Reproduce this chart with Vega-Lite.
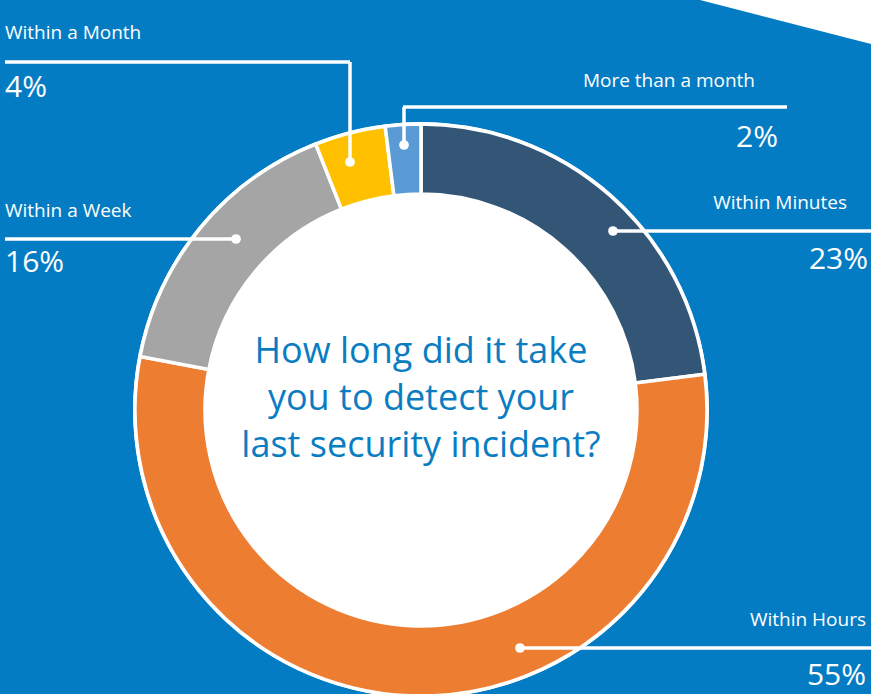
{
  "$schema": "https://vega.github.io/schema/vega-lite/v6.json",
  "width": 871,
  "height": 694,
  "autosize": {"type": "none"},
  "padding": 0,
  "background": "#047cc3",
  "config": {"view": {"stroke": null}},
  "resolve": {"scale": {"theta": "independent"}},
  "datasets": {
    "slices": [
      {"category": "Within Minutes", "value": 23, "rank": 1},
      {"category": "Within Hours", "value": 55, "rank": 2},
      {"category": "Within a Week", "value": 16, "rank": 3},
      {"category": "Within a Month", "value": 4, "rank": 4},
      {"category": "More than a month", "value": 2, "rank": 5}
    ],
    "corner": [
      {"x": 700, "y": 0},
      {"x": 871, "y": 44}
    ],
    "leaders": [
      {"category": "Within a Month", "x": 5, "y": 62, "x2": 350, "y2": 62},
      {"category": "Within a Month", "x": 350, "y": 62, "x2": 350, "y2": 162},
      {"category": "More than a month", "x": 403, "y": 107, "x2": 787, "y2": 107},
      {"category": "More than a month", "x": 404, "y": 107, "x2": 404, "y2": 145},
      {"category": "Within Minutes", "x": 613, "y": 231, "x2": 871, "y2": 231},
      {"category": "Within a Week", "x": 5, "y": 239, "x2": 236, "y2": 239},
      {"category": "Within Hours", "x": 520, "y": 648, "x2": 871, "y2": 648}
    ],
    "dots": [
      {"category": "Within a Month", "x": 350, "y": 162},
      {"category": "More than a month", "x": 404, "y": 145},
      {"category": "Within Minutes", "x": 613, "y": 231},
      {"category": "Within a Week", "x": 236, "y": 239},
      {"category": "Within Hours", "x": 520, "y": 648}
    ],
    "labels": [
      {"text": "Within a Month", "kind": "name", "side": "left", "x": 5, "y": 39},
      {"text": "4%", "kind": "pct", "side": "left", "x": 5, "y": 97},
      {"text": "Within a Week", "kind": "name", "side": "left", "x": 5, "y": 217},
      {"text": "16%", "kind": "pct", "side": "left", "x": 5, "y": 272},
      {"text": "More than a month", "kind": "name", "side": "right", "x": 755, "y": 87},
      {"text": "2%", "kind": "pct", "side": "right", "x": 778, "y": 147},
      {"text": "Within Minutes", "kind": "name", "side": "right", "x": 847, "y": 209},
      {"text": "23%", "kind": "pct", "side": "right", "x": 868, "y": 269},
      {"text": "Within Hours", "kind": "name", "side": "right", "x": 866, "y": 626},
      {"text": "55%", "kind": "pct", "side": "right", "x": 866, "y": 685}
    ],
    "title": [
      {"text": ["How long did it take", "you to detect your", "last security incident?"], "x": 421, "y": 363}
    ],
    "disk": [
      {"value": 1}
    ]
  },
  "encoding": {
    "x": {"type": "quantitative", "scale": {"domain": [0, 871], "nice": false, "zero": false}, "axis": null},
    "y": {"type": "quantitative", "scale": {"domain": [0, 694], "nice": false, "zero": false, "reverse": true}, "axis": null}
  },
  "layer": [
    {
      "data": {"name": "corner"},
      "mark": {"type": "area", "color": "white"},
      "encoding": {
        "x": {"field": "x", "type": "quantitative"},
        "y": {"field": "y", "type": "quantitative"},
        "y2": {"datum": 0}
      }
    },
    {
      "data": {"name": "disk"},
      "mark": {"type": "arc", "radius": 288, "radius2": 0, "color": "white"},
      "encoding": {
        "theta": {"field": "value", "type": "quantitative"},
        "x": {"datum": 421, "type": "quantitative"},
        "y": {"datum": 410, "type": "quantitative"}
      }
    },
    {
      "data": {"name": "slices"},
      "mark": {"type": "arc", "radius": 286, "radius2": 216, "stroke": "white", "strokeWidth": 3.5},
      "encoding": {
        "theta": {"field": "value", "type": "quantitative", "stack": true},
        "order": {"field": "rank", "type": "quantitative"},
        "color": {
          "field": "category",
          "type": "nominal",
          "scale": {
            "domain": ["Within Minutes", "Within Hours", "Within a Week", "Within a Month", "More than a month"],
            "range": ["#335677", "#ed7d31", "#a5a5a5", "#ffc000", "#5b9bd5"]
          },
          "legend": null
        },
        "x": {"datum": 421, "type": "quantitative"},
        "y": {"datum": 410, "type": "quantitative"}
      }
    },
    {
      "data": {"name": "leaders"},
      "mark": {"type": "rule", "color": "white", "strokeWidth": 3.5},
      "encoding": {
        "x": {"field": "x", "type": "quantitative"},
        "y": {"field": "y", "type": "quantitative"},
        "x2": {"field": "x2"},
        "y2": {"field": "y2"}
      }
    },
    {
      "data": {"name": "dots"},
      "mark": {"type": "point", "shape": "circle", "filled": true, "color": "white", "opacity": 1, "size": 95},
      "encoding": {
        "x": {"field": "x", "type": "quantitative"},
        "y": {"field": "y", "type": "quantitative"}
      }
    },
    {
      "data": {"name": "labels"},
      "transform": [{"filter": "datum.side === 'left'"}],
      "mark": {"type": "text", "align": "left", "baseline": "alphabetic", "color": "white", "font": "Open Sans"},
      "encoding": {
        "x": {"field": "x", "type": "quantitative"},
        "y": {"field": "y", "type": "quantitative"},
        "text": {"field": "text"},
        "size": {"field": "kind", "type": "ordinal", "scale": {"domain": ["name", "pct"], "range": [19, 30]}, "legend": null}
      }
    },
    {
      "data": {"name": "labels"},
      "transform": [{"filter": "datum.side === 'right'"}],
      "mark": {"type": "text", "align": "right", "baseline": "alphabetic", "color": "white", "font": "Open Sans"},
      "encoding": {
        "x": {"field": "x", "type": "quantitative"},
        "y": {"field": "y", "type": "quantitative"},
        "text": {"field": "text"},
        "size": {"field": "kind", "type": "ordinal", "scale": {"domain": ["name", "pct"], "range": [19, 30]}, "legend": null}
      }
    },
    {
      "data": {"name": "title"},
      "mark": {"type": "text", "align": "center", "baseline": "alphabetic", "color": "#0a7dc2", "font": "Open Sans", "fontSize": 36, "lineHeight": 47},
      "encoding": {
        "x": {"field": "x", "type": "quantitative"},
        "y": {"field": "y", "type": "quantitative"},
        "text": {"field": "text"}
      }
    }
  ]
}
